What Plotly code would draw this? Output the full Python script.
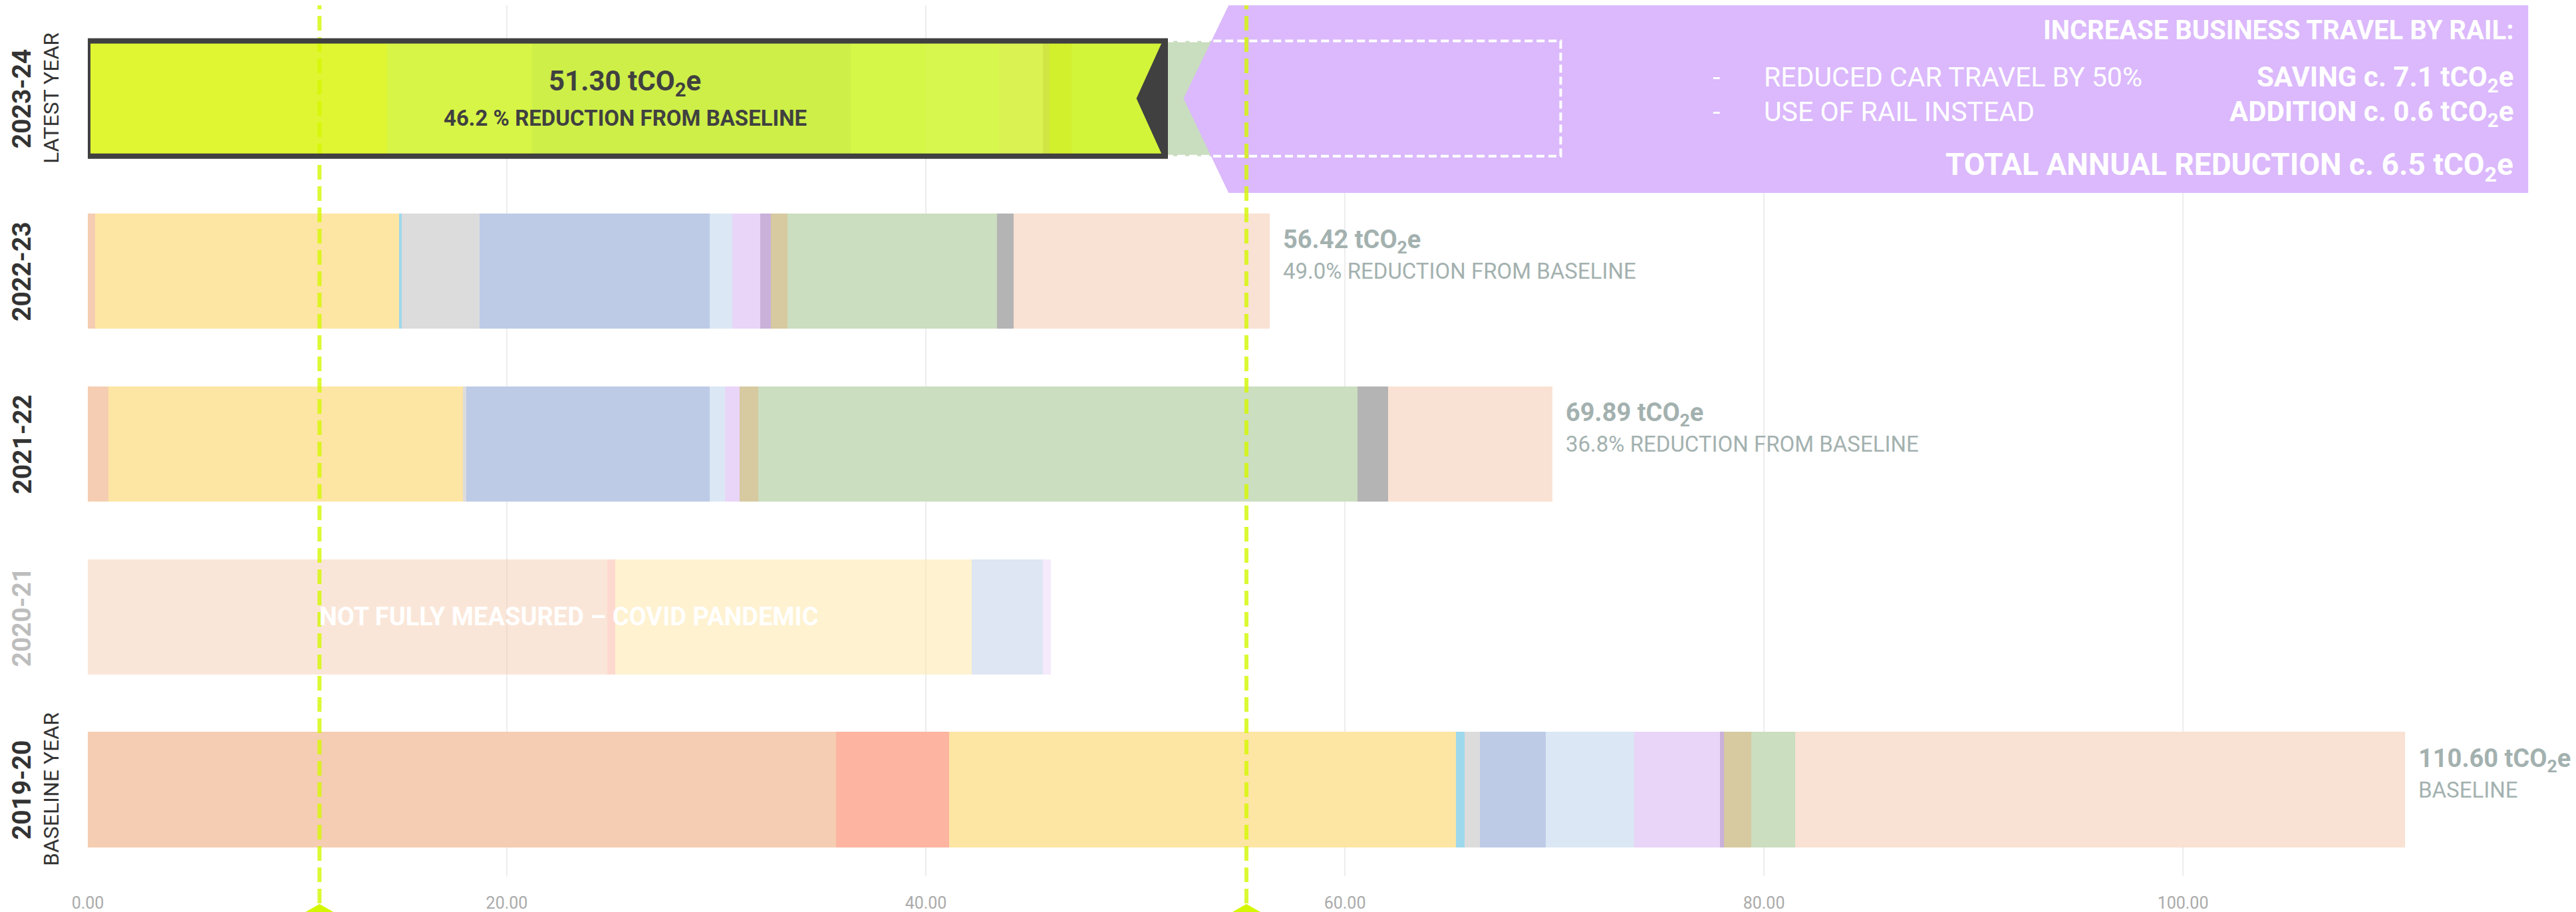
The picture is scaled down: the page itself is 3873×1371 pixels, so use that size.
import plotly.graph_objects as go

# ---------------- data ----------------
years = ["2019-20", "2020-21", "2021-22", "2022-23", "2023-24"]
year_subtitles = ["BASELINE YEAR", "", "", "", "LATEST YEAR"]
year_label_colors = ["#333333", "#BDBDBD", "#333333", "#333333", "#333333"]

categories = [f"Category {i}" for i in range(1, 14)]

# values per category, ordered like `years`
cat_values = [
    [35.70, 24.80, 0.97, 0.36, 0.00],    # 1 peach
    [5.40, 0.36, 0.00, 0.00, 0.00],      # 2 salmon
    [24.20, 17.04, 16.93, 14.49, 14.30], # 3 yellow
    [0.40, 0.00, 0.00, 0.12, 0.00],      # 4 cyan
    [0.75, 0.00, 0.15, 3.73, 6.90],      # 5 grey
    [3.15, 3.40, 11.63, 10.98, 15.20],   # 6 blue
    [4.20, 0.00, 0.72, 1.08, 3.60],      # 7 pale blue
    [4.10, 0.36, 0.70, 1.34, 3.50],      # 8 lavender
    [0.20, 0.00, 0.00, 0.50, 2.10],      # 9 purple
    [1.30, 0.00, 0.90, 0.80, 0.30],      # 10 tan
    [2.10, 0.00, 28.60, 10.00, 1.05],    # 11 green
    [0.00, 0.00, 1.45, 0.80, 0.00],      # 12 dark grey
    [29.10, 0.00, 7.84, 12.22, 4.35],    # 13 light peach
]

total_labels = {"2019-20": "110.60", "2021-22": "69.89", "2022-23": "56.42", "2023-24": "51.30"}
reduction_labels = {
    "2019-20": "BASELINE",
    "2021-22": "36.8% REDUCTION FROM BASELINE",
    "2022-23": "49.0% REDUCTION FROM BASELINE",
    "2023-24": "46.2 % REDUCTION FROM BASELINE",
}
covid_note = "NOT FULLY MEASURED \u2013 COVID PANDEMIC"

target_values = [11.06, 55.30]      # 90 % and 50 % reduction targets
ghost_end = 70.3                    # dashed outline extent behind the callout

callout_title = "INCREASE BUSINESS TRAVEL BY RAIL:"
callout_items = [("REDUCED CAR TRAVEL BY 50%", "SAVING c. 7.1 tCO<sub>2</sub>e"),
                 ("USE OF RAIL INSTEAD", "ADDITION c. 0.6 tCO<sub>2</sub>e")]
callout_total = "TOTAL ANNUAL REDUCTION c. 6.5 tCO<sub>2</sub>e"

x_ticks = [0, 20, 40, 60, 80, 100]

# ---------------- styles ----------------
cat_colors = ["#F5CDB2", "#FDB4A0", "#FDE5A3", "#9ED8EC", "#DCDCDC", "#BDCBE7", "#DBE7F4",
              "#E9D5F8", "#C9B1DA", "#D7C9A0", "#CBDEBF", "#B4B4B4", "#F9E1D3"]
latest_colors = ["#E0F632", "#E0F632", "#E0F632", "#D7F546", "#D7F546", "#CDEF48", "#D5F748",
                 "#D8F74E", "#DAF252", "#D1E644", "#D3F02C", "#D2F53A", "#D2F53A"]
FONT = "Roboto"
LABEL_GREY = "#A3B1AF"
DARK = "#404040"
BAR_W = 0.667

latest = "2023-24"
faded = "2020-21"

fig = go.Figure()
for ci, cat in enumerate(categories):
    colors = [latest_colors[ci] if y == latest else cat_colors[ci] for y in years]
    opac = [0.5 if y == faded else 1.0 for y in years]
    fig.add_trace(go.Bar(
        y=years, x=cat_values[ci], orientation="h", name=cat, width=BAR_W,
        marker=dict(color=colors, opacity=opac, line=dict(width=0)),
        showlegend=False, hovertemplate="%{y}: %{x:.2f}<extra>" + cat + "</extra>",
    ))

totals = [sum(cat_values[ci][yi] for ci in range(len(categories))) for yi in range(len(years))]
row = {y: i for i, y in enumerate(years)}
li = row[latest]
lt = totals[li]
half = BAR_W / 2
px = 118.76 / 3741.0  # data units per pixel on x
Y_TOP = 4.539

shapes = []
# green ghost region behind callout
shapes.append(dict(type="rect", xref="x", yref="y", x0=lt + 4 * px, x1=ghost_end,
                   y0=li - half, y1=li + half, fillcolor="#C9DDBF", line=dict(width=0), layer="above"))
# purple callout arrow box
tip = lt + 1.0
back = lt + 3.15
shapes.append(dict(type="path", xref="x", yref="y", layer="above",
                   path=f"M {back},{Y_TOP} L {tip},{li} L {back},3.453 L 116.48,3.453 L 116.48,{Y_TOP} Z",
                   fillcolor="#DBB9FC", line=dict(width=0)))
# white dashed outline
shapes.append(dict(type="rect", xref="x", yref="y", x0=lt + 4 * px, x1=ghost_end,
                   y0=li - half, y1=li + half, fillcolor="rgba(0,0,0,0)", layer="above",
                   line=dict(color="white", width=4, dash="12px,6px")))
# target dashed lines + bottom markers
for t in target_values:
    shapes.append(dict(type="line", xref="x", yref="paper", x0=t, x1=t, y0=-0.0313, y1=1,
                       layer="above", line=dict(color="rgba(212,247,0,0.8)", width=6, dash="22px,10px")))
    shapes.append(dict(type="path", xref="x", yref="paper", layer="above",
                       path=f"M {t},-0.0321 L {t + 1.0},-0.0458 L {t - 1.0},-0.0458 Z",
                       fillcolor="#D4F700", line=dict(width=0)))
# border of latest bar + notch
shapes.append(dict(type="rect", xref="x", yref="y", x0=0, x1=lt + 4 * px, y0=li - half, y1=li + half,
                   fillcolor="rgba(0,0,0,0)", layer="above", line=dict(color=DARK, width=8)))
shapes.append(dict(type="path", xref="x", yref="y", layer="above",
                   path=f"M {lt},{li + half} L {lt - 1.25},{li} L {lt},{li - half} Z",
                   fillcolor=DARK, line=dict(width=0)))

ann = []
# year labels
for i, y in enumerate(years):
    ann.append(dict(text=f"<b>{y}</b>", xref="paper", yref="y", x=-0.0264, y=y, textangle=-90,
                    showarrow=False, xanchor="center", yanchor="middle", borderpad=0,
                    font=dict(family=FONT, size=39, color=year_label_colors[i])))
    if year_subtitles[i]:
        ann.append(dict(text=year_subtitles[i], xref="paper", yref="y", x=-0.0147, y=y, textangle=-90,
                        showarrow=False, xanchor="center", yanchor="middle", borderpad=0,
                        font=dict(family=FONT, size=32, color=year_label_colors[i])))
# total labels
for i, y in enumerate(years):
    if y not in total_labels:
        continue
    if y == latest:
        ann.append(dict(text=f"{total_labels[y]} tCO<sub>2</sub>e", x=totals[i] / 2, y=y, xref="x", yref="y",
                        showarrow=False, xanchor="center", yanchor="middle", yshift=24,
                        font=dict(family=FONT, size=42, color=DARK, weight="bold")))
        ann.append(dict(text=reduction_labels[y], x=totals[i] / 2, y=y, xref="x", yref="y",
                        showarrow=False, xanchor="center", yanchor="middle", yshift=-29,
                        font=dict(family=FONT, size=33, color=DARK, weight="bold")))
    else:
        ann.append(dict(text=f"{total_labels[y]} tCO<sub>2</sub>e", x=totals[i], y=y, xref="x", yref="y",
                        showarrow=False, xanchor="left", yanchor="middle", xshift=18, yshift=45,
                        font=dict(family=FONT, size=38, color=LABEL_GREY, weight="bold")))
        ann.append(dict(text=reduction_labels[y], x=totals[i], y=y, xref="x", yref="y",
                        showarrow=False, xanchor="left", yanchor="middle", xshift=18, yshift=0,
                        font=dict(family=FONT, size=33, color=LABEL_GREY)))
# covid note
fi = row[faded]
ann.append(dict(text=covid_note, x=totals[fi] / 2, y=faded, xref="x", yref="y", showarrow=False,
                xanchor="center", yanchor="middle",
                font=dict(family=FONT, size=38, color="white", weight="bold")))
# callout text
ann.append(dict(text=callout_title, xref="paper", yref="paper", x=0.9754, y=0.9715, showarrow=False,
                xanchor="right", yanchor="middle", font=dict(family=FONT, size=40, color="white", weight="bold")))
for (left, right), yp in zip(callout_items, [0.9175, 0.8778]):
    ann.append(dict(text="-", xref="paper", yref="paper", x=0.6545, y=yp, showarrow=False,
                    xanchor="center", yanchor="middle", font=dict(family=FONT, size=41, color="white")))
    ann.append(dict(text=left, xref="paper", yref="paper", x=0.6731, y=yp, showarrow=False,
                    xanchor="left", yanchor="middle", font=dict(family=FONT, size=41, color="white")))
    ann.append(dict(text=right, xref="paper", yref="paper", x=0.9754, y=yp - 0.002, showarrow=False,
                    xanchor="right", yanchor="middle", font=dict(family=FONT, size=42, color="white", weight="bold")))
ann.append(dict(text=callout_total, xref="paper", yref="paper", x=0.9754, y=0.8150, showarrow=False,
                xanchor="right", yanchor="middle", font=dict(family=FONT, size=46, color="white", weight="bold")))

fig.update_layout(
    width=3865, height=1363,
    margin=dict(l=124, r=0, t=0, b=54),
    barmode="stack",
    plot_bgcolor="white", paper_bgcolor="white",
    shapes=shapes, annotations=ann,
    xaxis=dict(range=[0, 118.76], tickvals=x_ticks, tickformat=".2f", showgrid=True,
               gridcolor="#EDEDED", gridwidth=2, zeroline=False, showline=False, ticks="",
               tickfont=dict(family=FONT, size=25, color="#AAAAAA"), ticklabelstandoff=23),
    yaxis=dict(type="category", categoryorder="array", categoryarray=years, range=[-0.5005, Y_TOP],
               showticklabels=False, showgrid=False, zeroline=False, showline=False),
    font=dict(family=FONT),
)

fig.write_html("out.html")
